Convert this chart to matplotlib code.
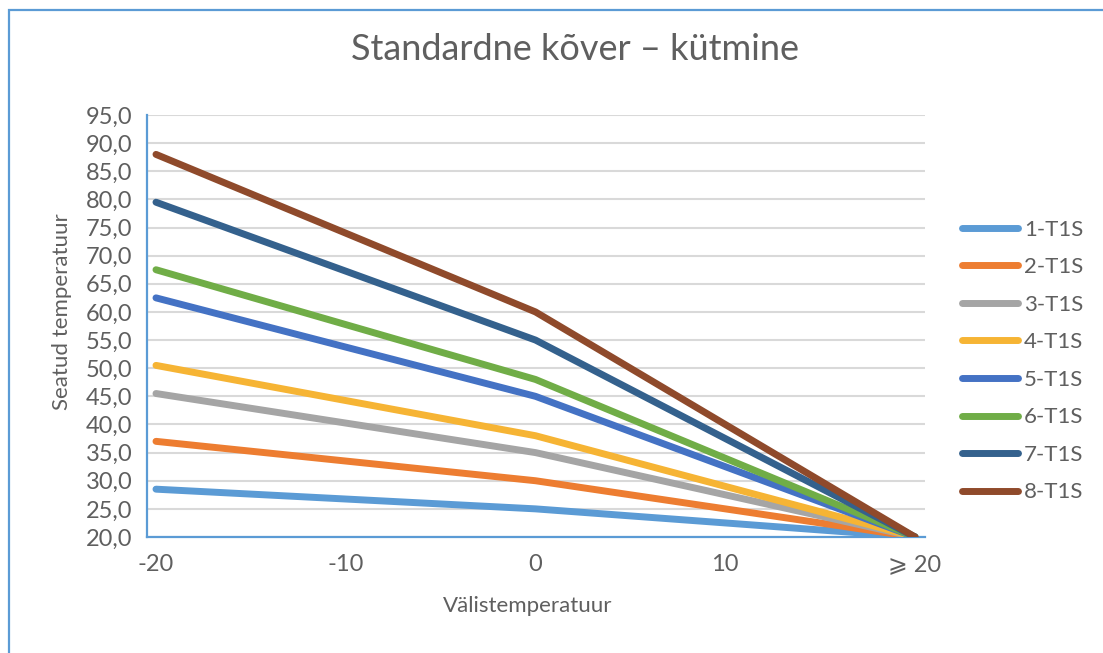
import matplotlib.pyplot as plt
from matplotlib.patches import Rectangle

# outdoor temperature points and set-point temperature per curve
outdoor = [-20, 0, 20]
curve_names = ["1-T1S", "2-T1S", "3-T1S", "4-T1S", "5-T1S", "6-T1S", "7-T1S", "8-T1S"]
at_minus20 = [28.5, 37.0, 45.5, 50.5, 62.5, 67.5, 79.5, 88.0]
at_zero = [25.0, 30.0, 35.0, 38.0, 45.0, 48.0, 55.0, 60.0]
at_plus20 = [20.0, 20.0, 20.0, 20.0, 20.0, 20.0, 20.0, 20.0]

x_ticks = [-20, -10, 0, 10, 20]
x_tick_labels = ["-20", "-10", "0", "10", "\u2a7e 20"]
y_ticks = [20 + 5 * i for i in range(16)]

colors = ["#5B9BD5", "#ED7D31", "#A5A5A5", "#F6B434",
          "#4472C4", "#70AD47", "#34618D", "#8F4A2B"]

TEXT = "#5f5f5f"
FONT = ["Lato", "DejaVu Sans", "Noto Sans", "Noto Sans CJK SC", "Liberation Sans"]

plt.rcParams["font.family"] = FONT

W, H = 1103, 653
fig = plt.figure(figsize=(W / 100, H / 100), dpi=100)

# outer chart frame
fig.patches.append(Rectangle((9 / W, -0.1), 1.2, (H - 10) / H + 0.1,
                             transform=fig.transFigure, fill=False,
                             edgecolor="#5B9BD5", linewidth=1.6))

ax = fig.add_axes([146.5 / W, 1 - 537 / H, (924.5 - 146.5) / W, (537 - 115) / H])

for name, c, a, b, d in zip(curve_names, colors, at_minus20, at_zero, at_plus20):
    ax.plot(outdoor, [a, b, d], color=c, linewidth=5, solid_capstyle="round",
            solid_joinstyle="round", label=name, zorder=3)

ax.set_xlim(-20.5, 20.5)
ax.set_ylim(20, 95)
ax.set_xticks(x_ticks)
ax.set_xticklabels(x_tick_labels)
ax.set_yticks(y_ticks)
ax.set_yticklabels([f"{v:.1f}".replace(".", ",") for v in y_ticks])
ax.tick_params(length=0, labelsize=17, colors=TEXT, labelcolor=TEXT)
ax.tick_params(axis="x", pad=12)
ax.tick_params(axis="y", pad=10)

ax.grid(axis="y", color="#D9D9D9", linewidth=1.5, zorder=0)
for side in ["top", "right"]:
    ax.spines[side].set_visible(False)
for side in ["left", "bottom"]:
    ax.spines[side].set_color("#5B9BD5")
    ax.spines[side].set_linewidth(1.6)

fig.text(575 / W, 1 - 50 / H, "Standardne kõver \u2013 kütmine", ha="center", va="center",
         fontsize=26, color=TEXT)
fig.text(62 / W, 1 - 312 / H, "Seatud temperatuur", ha="center", va="center",
         rotation=90, fontsize=16, color=TEXT)
fig.text(528 / W, 1 - 606 / H, "Välistemperatuur", ha="center", va="center",
         fontsize=16, color=TEXT)

leg = fig.legend(loc="center left", bbox_to_anchor=(942 / W, 1 - 361 / H),
                 frameon=False, fontsize=16, handlelength=2.5, handletextpad=0.3,
                 labelspacing=0.79, labelcolor=TEXT)

fig.savefig("out.png", dpi=100)
